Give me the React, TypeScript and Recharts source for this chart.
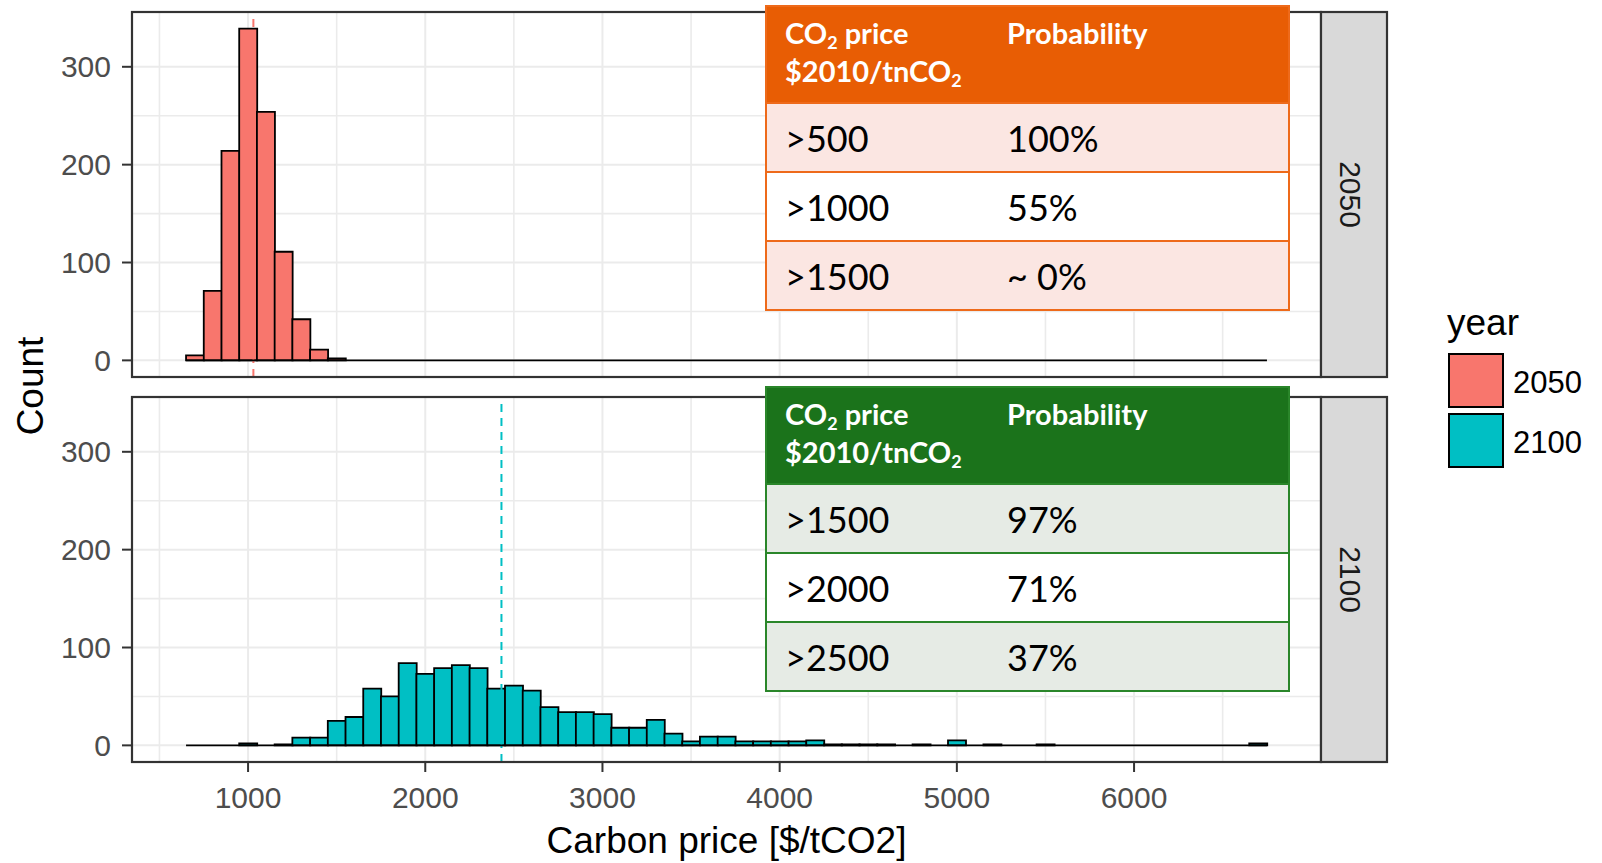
import React from 'react'
import { ComposedChart, Bar, XAxis, YAxis, ReferenceLine, CartesianGrid } from 'recharts'

// histogram bins, binwidth 100, listed by bin centre
const binCenters = [
  700, 800, 900, 1000, 1100, 1200, 1300, 1400, 1500, 1600,
  1700, 1800, 1900, 2000, 2100, 2200, 2300, 2400, 2500, 2600,
  2700, 2800, 2900, 3000, 3100, 3200, 3300, 3400, 3500, 3600,
  3700, 3800, 3900, 4000, 4100, 4200, 4300, 4400, 4500, 4600,
  4700, 4800, 4900, 5000, 5100, 5200, 5300, 5400, 5500, 5600,
  5700, 5800, 5900, 6000, 6100, 6200, 6300, 6400, 6500, 6600,
  6700,
]

const counts2050 = [
  5, 71, 214, 339, 254, 111, 42, 11, 2, 0,
  0, 0, 0, 0, 0, 0, 0, 0, 0, 0,
  0, 0, 0, 0, 0, 0, 0, 0, 0, 0,
  0, 0, 0, 0, 0, 0, 0, 0, 0, 0,
  0, 0, 0, 0, 0, 0, 0, 0, 0, 0,
  0, 0, 0, 0, 0, 0, 0, 0, 0, 0,
  0,
]

const counts2100 = [
  0, 0, 0, 2, 0, 1, 8, 8, 25, 29,
  58, 50, 84, 73, 79, 82, 79, 58, 61, 56,
  39, 34, 34, 32, 18, 18, 26, 12, 4, 9,
  9, 4, 4, 4, 4, 5, 1, 1, 1, 1,
  0, 1, 0, 5, 0, 1, 0, 0, 1, 0,
  0, 0, 0, 0, 0, 0, 0, 0, 0, 0,
  2,
]

// outer edges of the binned range (zero bins show as a flat line)
const binRange = [650, 6750]
const mean2050 = 1030
const mean2100 = 2430

const xDomain = [345, 7055]
const yDomain = [-17, 356]
const xMajor = [1000, 2000, 3000, 4000, 5000, 6000]
const xMinor = [500, 1500, 2500, 3500, 4500, 5500, 6500]
const yMajor = [0, 100, 200, 300]
const yMinor = [50, 150, 250]

const years = ['2050', '2100']
const yearColors = ['#F8766D', '#00BFC4']

const thresholds2050 = ['>500', '>1000', '>1500']
const probabilities2050 = ['100%', '55%', '~ 0%']
const thresholds2100 = ['>1500', '>2000', '>2500']
const probabilities2100 = ['97%', '71%', '37%']

const W = 1602
const H = 863
const PLOT_LEFT = 132
const PLOT_RIGHT = 1321
const STRIP_RIGHT = 1387
const panels = [
  { top: 12, bottom: 377 },
  { top: 397, bottom: 762 },
]
const FONT = "'Liberation Sans', Arial, sans-serif"

function Panel({ top, bottom, counts, fill, mean, showX }: any) {
  const data = binCenters.map((price, i) => ({ price, count: counts[i] }))
  const chartH = showX ? H : bottom
  const tickStyle = { fill: '#4D4D4D', fontSize: 30, fontFamily: FONT }
  return (
    <div style={{ position: 'absolute', left: 0, top: 0 }}>
      <ComposedChart width={PLOT_RIGHT + 20} height={chartH} data={data}
        margin={{ top, right: 20, bottom: 0, left: 0 }} barCategoryGap={0} barGap={0}>
        <CartesianGrid verticalValues={xMinor} horizontalValues={yMinor} stroke="#EBEBEB" strokeWidth={1.6} />
        <CartesianGrid verticalValues={xMajor} horizontalValues={yMajor} stroke="#EBEBEB" strokeWidth={2} />
        <XAxis type="number" dataKey="price" domain={xDomain} allowDataOverflow ticks={xMajor} interval={0}
          hide={!showX} height={H - bottom} tickSize={10} tickMargin={15} axisLine={false}
          tickLine={{ stroke: '#333333', strokeWidth: 2 }} tick={tickStyle} />
        <YAxis type="number" domain={yDomain} allowDataOverflow ticks={yMajor} interval={0}
          width={PLOT_LEFT} tickSize={10} tickMargin={11} axisLine={false}
          tickLine={{ stroke: '#333333', strokeWidth: 2 }} tick={tickStyle} />
        <ReferenceLine x={mean} stroke={fill} strokeWidth={2} strokeDasharray="8 6" />
        <ReferenceLine segment={[{ x: binRange[0], y: 0 }, { x: binRange[1], y: 0 }]} stroke="#000" strokeWidth={1.8} />
        <Bar dataKey="count" fill={fill} stroke="#000" strokeWidth={1.8} isAnimationActive={false} />
      </ComposedChart>
    </div>
  )
}

function ProbTable({ top, head, border, light, thresholds, probs }: any) {
  return (
    <div style={{ position: 'absolute', left: 765, top, width: 525, boxSizing: 'border-box',
      border: `2px solid ${border}`, fontFamily: 'Lato, sans-serif', color: '#000' }}>
      <div style={{ height: 95, background: head, color: '#fff', fontWeight: 700, fontSize: 29, position: 'relative' }}>
        <div style={{ position: 'absolute', left: 18, top: 7, lineHeight: '38px' }}>
          CO<sub style={{ fontSize: '0.62em', verticalAlign: '-0.3em', lineHeight: 0 }}>2</sub> price<br />
          $2010/tnCO<sub style={{ fontSize: '0.62em', verticalAlign: '-0.3em', lineHeight: 0 }}>2</sub>
        </div>
        <div style={{ position: 'absolute', left: 240, top: 7, lineHeight: '38px' }}>Probability</div>
      </div>
      {thresholds.map((t: string, i: number) => (
        <div key={t} style={{ height: 67, borderTop: `2px solid ${border}`, background: i === 1 ? '#FFFFFF' : light,
          display: 'flex', alignItems: 'center', fontSize: 36 }}>
          <span style={{ width: 222, paddingLeft: 18 }}>{t}</span>
          <span>{probs[i]}</span>
        </div>
      ))}
    </div>
  )
}

export default function App() {
  return (
    <div style={{ position: 'absolute', left: 0, top: 0, width: W, height: H, background: '#fff', overflow: 'hidden' }}>
      <Panel top={panels[0].top} bottom={panels[0].bottom} counts={counts2050} fill={yearColors[0]} mean={mean2050} showX={false} />
      <Panel top={panels[1].top} bottom={panels[1].bottom} counts={counts2100} fill={yearColors[1]} mean={mean2100} showX />

      <svg width={W} height={H} style={{ position: 'absolute', left: 0, top: 0, pointerEvents: 'none' }} fontFamily={FONT}>
        {panels.map((p, i) => (
          <g key={i}>
            <rect x={PLOT_LEFT} y={p.top} width={PLOT_RIGHT - PLOT_LEFT} height={p.bottom - p.top} fill="none" stroke="#333333" strokeWidth={2.2} />
            <rect x={PLOT_RIGHT} y={p.top} width={STRIP_RIGHT - PLOT_RIGHT} height={p.bottom - p.top} fill="#D9D9D9" stroke="#333333" strokeWidth={2.2} />
            <text transform={`translate(${(PLOT_RIGHT + STRIP_RIGHT) / 2 - 14},${(p.top + p.bottom) / 2}) rotate(90)`}
              textAnchor="middle" fontSize={30} fill="#1A1A1A">{years[i]}</text>
          </g>
        ))}
        <text transform="translate(43,386) rotate(-90)" textAnchor="middle" fontSize={37} fill="#000">Count</text>
        <text x={(PLOT_LEFT + PLOT_RIGHT) / 2} y={853} textAnchor="middle" fontSize={37} fill="#000">Carbon price [$/tCO2]</text>

        <text x={1447} y={335} fontSize={37} fill="#000">year</text>
        {years.map((y, i) => (
          <g key={y}>
            <rect x={1449} y={354 + i * 60} width={54} height={53} fill={yearColors[i]} stroke="#000" strokeWidth={2} />
            <text x={1513} y={393 + i * 60} fontSize={31} fill="#000">{y}</text>
          </g>
        ))}
      </svg>

      <ProbTable top={5} head="#E85D04" border="#EE6A1A" light="#FBE6E2"
        thresholds={thresholds2050} probs={probabilities2050} />
      <ProbTable top={386} head="#1B731B" border="#2A862A" light="#E6EBE5"
        thresholds={thresholds2100} probs={probabilities2100} />
    </div>
  )
}
